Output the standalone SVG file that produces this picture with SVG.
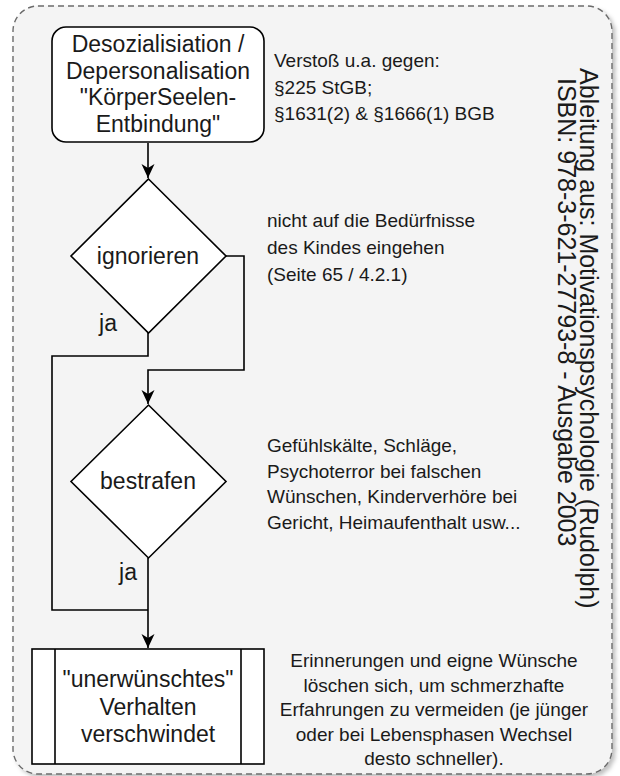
<svg xmlns="http://www.w3.org/2000/svg" width="620" height="776" viewBox="0 0 620 776">
<defs>
<style>
text{font-family:"Liberation Sans",Arial,sans-serif;fill:#1a1a1a}
.big{font-size:23px}
.note{font-size:19px}
.rot{font-size:25px}
.shape{fill:#ffffff;stroke:#000000;stroke-width:1.6}
.edge{fill:none;stroke:#000000;stroke-width:1.6}
</style>
<filter id="sh" x="-5%" y="-5%" width="110%" height="110%">
<feDropShadow dx="3" dy="3" stdDeviation="2" flood-color="#000" flood-opacity="0.25"/>
</filter>
<marker id="arr" markerWidth="16" markerHeight="16" refX="14" refY="7" orient="auto" markerUnits="userSpaceOnUse">
<path d="M14,7 L0,0.5 L4,7 L0,13.5 Z" fill="#000"/>
</marker>
</defs>
<g id="container">
<rect x="13" y="6" width="599" height="768" rx="25" ry="25" fill="#f4f4f4" stroke="#6b6b6b" stroke-width="1.4" stroke-dasharray="6 4" filter="url(#sh)"/>
</g>
<g id="connectors">
<path class="edge" d="M148,143 L148,178" marker-end="url(#arr)"/>
<path class="edge" d="M226,256 L244,256 L244,370 L148,370 L148,404" marker-end="url(#arr)"/>
<path class="edge" d="M148,333 L148,356 L52,356 L52,610 L148,610"/>
<path class="edge" d="M148,558 L148,648" marker-end="url(#arr)"/>
</g>
<g id="start">
<rect class="shape" x="52" y="27" width="212" height="115" rx="14" ry="14"/>
<text class="big" text-anchor="middle" x="158" y="52">Desozialisiation /</text>
<text class="big" text-anchor="middle" x="158" y="78.5">Depersonalisation</text>
<text class="big" text-anchor="middle" x="158" y="105">"KörperSeelen-</text>
<text class="big" text-anchor="middle" x="158" y="131.5">Entbindung"</text>
</g>
<g id="note1">
<text class="note" x="274" y="67">Verstoß u.a. gegen:</text>
<text class="note" x="274" y="93.5">§225 StGB;</text>
<text class="note" x="274" y="120">§1631(2) &amp; §1666(1) BGB</text>
</g>
<g id="ignorieren">
<polygon class="shape" points="148.5,179 226,256 148.5,333 71,256"/>
<text class="big" text-anchor="middle" x="148" y="264">ignorieren</text>
</g>
<g id="label-ja1">
<text class="big" text-anchor="middle" x="108" y="331">ja</text>
</g>
<g id="note2">
<text class="note" x="267" y="227">nicht auf die Bedürfnisse</text>
<text class="note" x="267" y="254">des Kindes eingehen</text>
<text class="note" x="267" y="281">(Seite 65 / 4.2.1)</text>
</g>
<g id="bestrafen">
<polygon class="shape" points="148.5,405 226,481.5 148.5,558 71,481.5"/>
<text class="big" text-anchor="middle" x="148" y="489">bestrafen</text>
</g>
<g id="label-ja2">
<text class="big" text-anchor="middle" x="128" y="580">ja</text>
</g>
<g id="note3">
<text class="note" x="267" y="452">Gefühlskälte, Schläge,</text>
<text class="note" x="267" y="477.5">Psychoterror bei falschen</text>
<text class="note" x="267" y="503">Wünschen, Kinderverhöre bei</text>
<text class="note" x="267" y="528.5">Gericht, Heimaufenthalt usw...</text>
</g>
<g id="end">
<rect class="shape" x="32" y="649" width="232" height="115"/>
<line class="edge" x1="55" y1="649" x2="55" y2="764"/>
<line class="edge" x1="241" y1="649" x2="241" y2="764"/>
<text class="big" text-anchor="middle" x="148" y="687">"unerwünschtes"</text>
<text class="big" text-anchor="middle" x="148" y="714.5">Verhalten</text>
<text class="big" text-anchor="middle" x="148" y="742">verschwindet</text>
</g>
<g id="note4">
<text class="note" text-anchor="middle" x="434" y="667">Erinnerungen und eigne Wünsche</text>
<text class="note" text-anchor="middle" x="434" y="691.5">löschen sich, um schmerzhafte</text>
<text class="note" text-anchor="middle" x="434" y="716">Erfahrungen zu vermeiden (je jünger</text>
<text class="note" text-anchor="middle" x="434" y="740.5">oder bei Lebensphasen Wechsel</text>
<text class="note" text-anchor="middle" x="434" y="765">desto schneller).</text>
</g>
<g id="source">
<text class="rot" transform="translate(580,68) rotate(90)">Ableitung aus: Motivationspsychologie (Rudolph)</text>
<text class="rot" transform="translate(558,78) rotate(90)">ISBN: 978-3-621-27793-8 - Ausgabe 2003</text>
</g>
</svg>
